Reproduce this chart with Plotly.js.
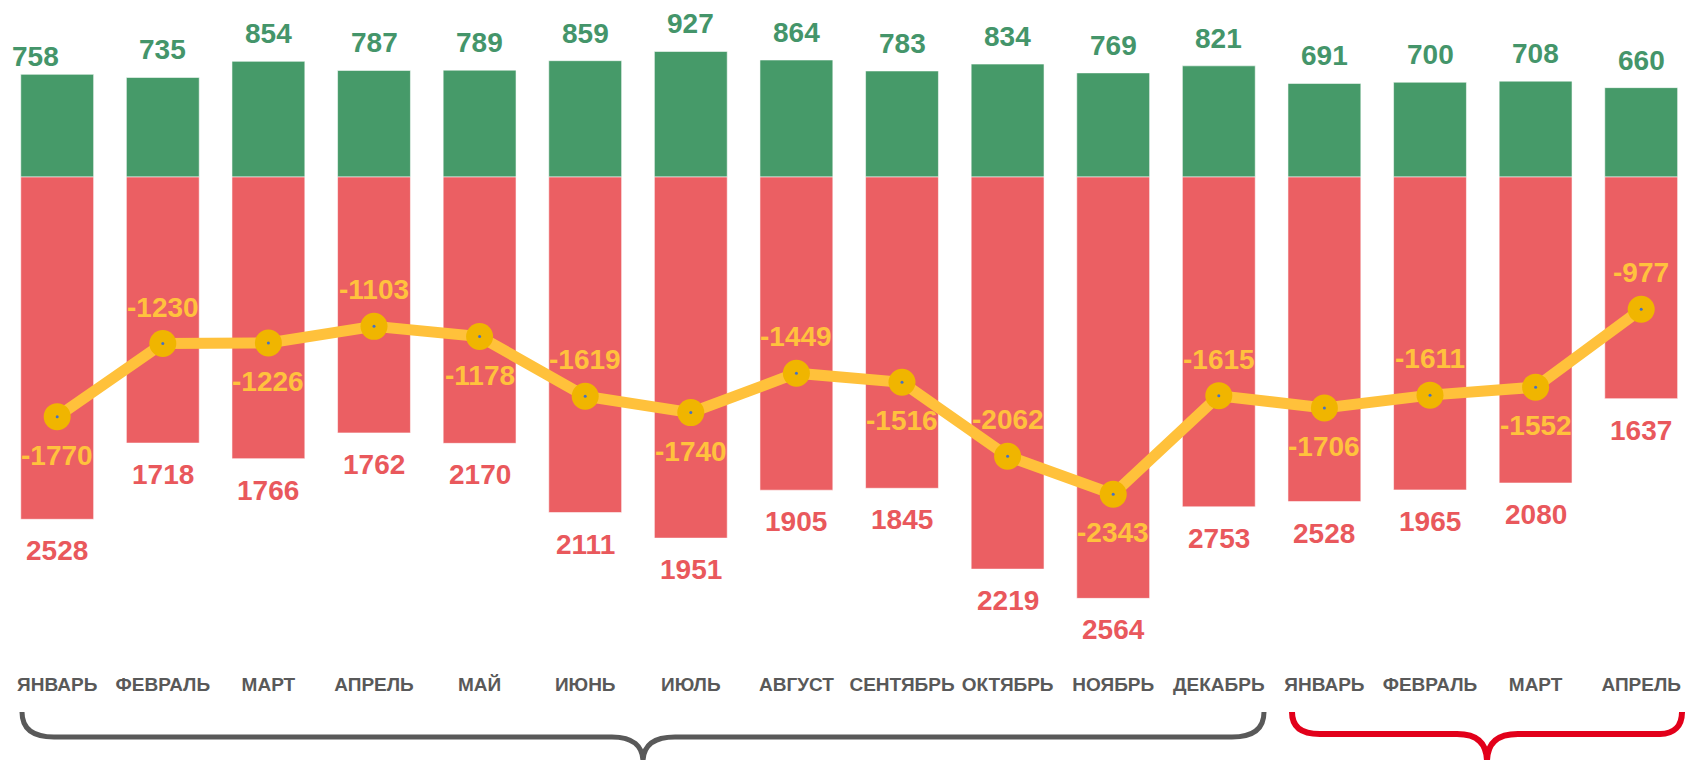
<!DOCTYPE html>
<html>
<head>
<meta charset="utf-8">
<script src="https://cdn.plot.ly/plotly-3.0.1.min.js"></script>
<style>
  html, body { margin: 0; padding: 0; background: #ffffff; }
  #chart { width: 1685px; height: 760px; }
</style>
</head>
<body>
<div id="chart"></div>
<script>
// ---- data ----
const months = ['ЯНВАРЬ','ФЕВРАЛЬ','МАРТ','АПРЕЛЬ','МАЙ','ИЮНЬ','ИЮЛЬ','АВГУСТ','СЕНТЯБРЬ','ОКТЯБРЬ','НОЯБРЬ','ДЕКАБРЬ','ЯНВАРЬ','ФЕВРАЛЬ','МАРТ','АПРЕЛЬ'];
const greenValues = [758, 735, 854, 787, 789, 859, 927, 864, 783, 834, 769, 821, 691, 700, 708, 660];
const redValues = [-2528, -1965, -2080, -1890, -1967, -2478, -2667, -2313, -2299, -2896, -3112, -2436, -2397, -2311, -2260, -1637];
const redLabels = ['2528','1718','1766','1762','2170','2111','1951','1905','1845','2219','2564','2753','2528','1965','2080','1637'];
const netValues = [-1770, -1230, -1226, -1103, -1178, -1619, -1740, -1449, -1516, -2062, -2343, -1615, -1706, -1611, -1552, -977];
const netLabelAbove = [false, true, false, true, false, true, false, true, false, true, false, true, false, true, false, true];

// ---- styling ----
const W = 1685, H = 760;
const GREEN = '#469A69', GREEN_TXT = '#44956A';
const RED = '#EB5F63', RED_TXT = '#E9585C';
const YEL_LINE = '#FFC13B', YEL_MARK = '#F0B500', YEL_TXT = '#FFC23D';
const FONT = 'Liberation Sans, Arial, Helvetica, sans-serif';
const xIdx = months.map((_, i) => i);

const traces = [
  { type: 'bar', x: xIdx, y: greenValues, width: 0.69,
    marker: { color: GREEN, line: { color: 'rgba(255,255,255,0.55)', width: 1 } },
    hoverinfo: 'skip' },
  { type: 'bar', x: xIdx, y: redValues, width: 0.69,
    marker: { color: RED, line: { color: 'rgba(255,255,255,0.55)', width: 1 } },
    hoverinfo: 'skip' },
  { type: 'scatter', mode: 'lines+markers', x: xIdx, y: netValues,
    line: { color: YEL_LINE, width: 11 },
    marker: { color: YEL_MARK, size: 27 },
    hoverinfo: 'skip' },
  { type: 'scatter', mode: 'markers', x: xIdx, y: netValues,
    marker: { color: '#4472C4', size: 3 }, hoverinfo: 'skip' }
];

const annotations = [];
const numFont = (c) => ({ family: FONT, size: 28, color: c, weight: 700 });
xIdx.forEach(i => {
  // the first green label sits a little left and lower in the reference
  const first = (i === 0);
  annotations.push({ x: i, y: greenValues[i], xref: 'x', yref: 'y', text: String(greenValues[i]),
    showarrow: false, yanchor: 'bottom', yshift: first ? 0 : 10, xshift: first ? -22 : 0,
    font: numFont(GREEN_TXT) });
  annotations.push({ x: i, y: redValues[i], xref: 'x', yref: 'y', text: redLabels[i],
    showarrow: false, yanchor: 'top', yshift: -14, font: numFont(RED_TXT) });
  const up = netLabelAbove[i];
  annotations.push({ x: i, y: netValues[i], xref: 'x', yref: 'y', text: String(netValues[i]),
    showarrow: false, yanchor: up ? 'bottom' : 'top', yshift: up ? 19 : -21, font: numFont(YEL_TXT) });
});

// bracket decorations (pixel -> paper)
function P(x, y) { return (x / W).toFixed(5) + ',' + (1 - y / H).toFixed(5); }
const grayPath = `M${P(22,712)} C${P(22,728)} ${P(32,737)} ${P(54,737)} L${P(612,737)} C${P(633,737)} ${P(643,746)} ${P(643,762)} ` +
                 `M${P(643,762)} C${P(643,746)} ${P(653,737)} ${P(675,737)} L${P(1232,737)} C${P(1254,737)} ${P(1264,728)} ${P(1264,712)}`;
const redPath = `M${P(1292,712)} C${P(1292,726)} ${P(1300,734)} ${P(1320,734)} L${P(1457,734)} C${P(1478,734)} ${P(1487,744)} ${P(1487,762)} ` +
                `M${P(1487,762)} C${P(1487,744)} ${P(1496,734)} ${P(1518,734)} L${P(1660,734)} C${P(1674,734)} ${P(1682,726)} ${P(1682,712)}`;

const shapes = [
  { type: 'path', xref: 'paper', yref: 'paper', path: grayPath, line: { color: '#595959', width: 5 } },
  { type: 'path', xref: 'paper', yref: 'paper', path: redPath, line: { color: '#E2001A', width: 6 } }
];

// axis ranges chosen so that the plot fills the page
const pxPerCat = 105.6, firstCenter = 57.2;
const zeroPx = 177, pxPerUnit = 0.1354;

const layout = {
  width: W, height: H,
  margin: { l: 0, r: 0, t: 0, b: 0, pad: 0 },
  paper_bgcolor: '#ffffff', plot_bgcolor: '#ffffff',
  showlegend: false,
  barmode: 'relative',
  xaxis: {
    range: [-firstCenter / pxPerCat, (W - firstCenter) / pxPerCat],
    tickmode: 'array', tickvals: xIdx, ticktext: months,
    anchor: 'free', position: 1 - 671 / H,
    showgrid: false, zeroline: false, showline: false, ticks: '',
    tickfont: { family: FONT, size: 19, color: '#595959', weight: 700 },
    fixedrange: true
  },
  yaxis: {
    range: [-(H - zeroPx) / pxPerUnit, zeroPx / pxPerUnit],
    visible: false, showgrid: false, zeroline: false, fixedrange: true
  },
  annotations: annotations,
  shapes: shapes
};

Plotly.newPlot('chart', traces, layout, { displayModeBar: false, staticPlot: true });
</script>
</body>
</html>
